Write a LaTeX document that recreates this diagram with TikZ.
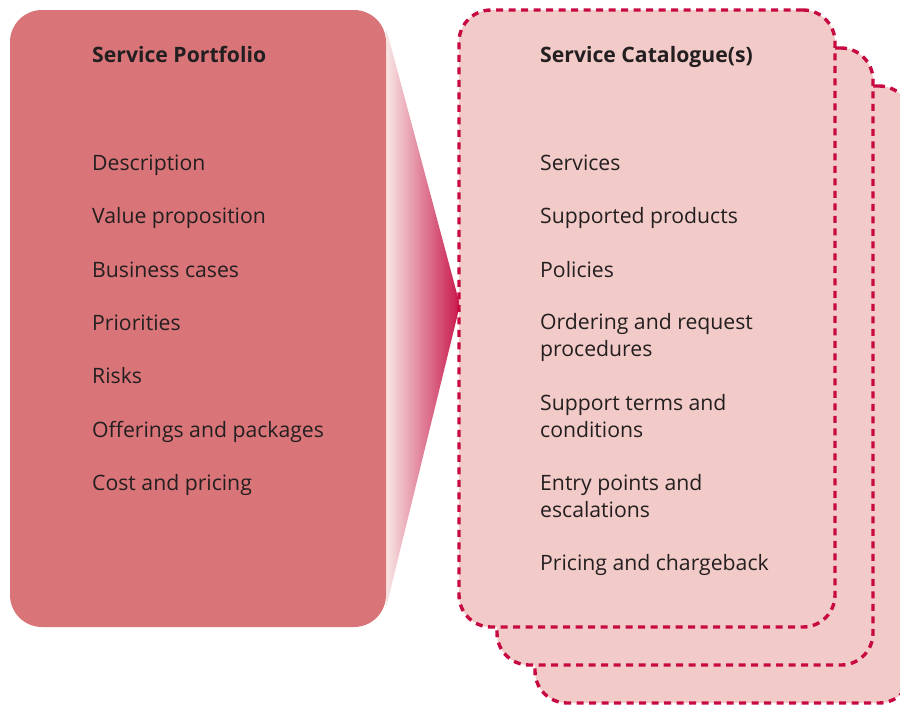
\documentclass[tikz,border=0pt]{standalone}
\usepackage{fontspec}
\setmainfont{Open Sans}
\definecolor{boxred}{HTML}{D97578}
\definecolor{cardfill}{HTML}{F2CAC7}
\definecolor{crimson}{HTML}{C70B42}
\definecolor{funL}{HTML}{F8E6E4}
\definecolor{funR}{HTML}{C8164A}
\definecolor{txt}{HTML}{231F20}
\begin{document}
\begin{tikzpicture}[x=1pt,y=-1pt,
  panel/.style={rectangle, rounded corners=32pt, minimum width=376pt, minimum height=617pt, inner sep=0pt},
  card/.style={panel, fill=cardfill, draw=crimson, line width=3.4pt, dash pattern=on 7pt off 5.5pt},
  lbl/.style={anchor=base west, inner sep=0pt, text=txt, font=\fontsize{21.2}{27}\selectfont, align=left},
  ttl/.style={lbl, font=\fontsize{21.2}{27}\selectfont\bfseries}]
\useasboundingbox (0,0) rectangle (900,705);
\clip (0,0) rectangle (900,705);
% funnel
\shade[left color=funL, right color=funR] (386,28) -- (460,305) -- (386,608) -- cycle;
% left panel
\node[panel, fill=boxred] (portfolio) at (198,318.5) {};
% stacked catalogue cards
\node[card] (back) at (723,394.5) {};
\node[card] (middle) at (685,356.5) {};
\node[card] (front) at (647,318.5) {};
% left texts
\node[ttl] (pt) at (92,62) {Service Portfolio};
\node[lbl] (p1) at (92,170) {Description};
\node[lbl] (p2) at (92,223) {Value proposition};
\node[lbl] (p3) at (92,277) {Business cases};
\node[lbl] (p4) at (92,330) {Priorities};
\node[lbl] (p5) at (92,383) {Risks};
\node[lbl] (p6) at (92,437) {Offerings and packages};
\node[lbl] (p7) at (92,490) {Cost and pricing};
% right texts (two-line nodes: base = last line)
\node[ttl] (ct) at (540,62) {Service Catalogue(s)};
\node[lbl] (c1) at (540,170) {Services};
\node[lbl] (c2) at (540,223) {Supported products};
\node[lbl] (c3) at (540,277) {Policies};
\node[lbl] (c4) at (540,356) {Ordering and request\\procedures};
\node[lbl] (c5) at (540,437) {Support terms and\\conditions};
\node[lbl] (c6) at (540,517) {Entry points and\\escalations};
\node[lbl] (c7) at (540,570) {Pricing and chargeback};
\end{tikzpicture}
\end{document}
